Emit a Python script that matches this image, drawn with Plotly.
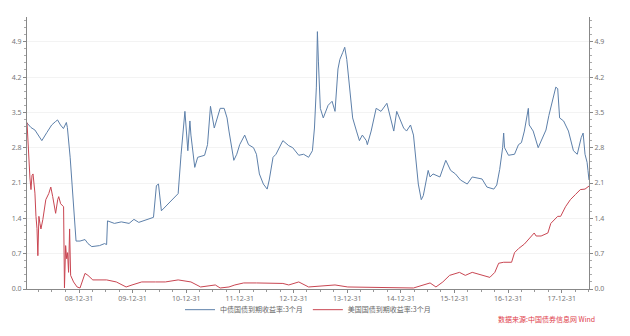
import plotly.graph_objects as go
import pandas as pd

cn_dates = ["2008-01-12","2008-02-08","2008-03-06","2008-04-22","2008-05-26","2008-06-28","2008-07-25","2008-08-07",
            "2008-08-27","2008-09-16","2008-10-06","2008-10-13","2008-11-01","2008-11-21","2008-12-11","2009-01-07",
            "2009-02-10","2009-03-02","2009-03-28","2009-05-20","2009-06-23","2009-07-07","2009-07-13","2009-08-29",
            "2009-10-15","2009-12-07","2010-01-09","2010-02-11","2010-04-19","2010-05-22","2010-06-11","2010-06-25",
            "2010-07-15","2010-08-31","2010-10-03","2010-11-06","2010-11-26","2010-12-22","2011-01-11","2011-01-25",
            "2011-02-01","2011-02-27","2011-03-19","2011-05-05","2011-05-25","2011-06-14","2011-07-10","2011-07-30",
            "2011-08-19","2011-09-15","2011-10-05","2011-10-18","2011-11-20","2011-12-10","2011-12-30","2012-02-02",
            "2012-02-28","2012-04-02","2012-04-22","2012-05-12","2012-06-08","2012-07-04","2012-07-18","2012-08-13",
            "2012-09-02","2012-10-19","2012-11-28","2012-12-25","2013-02-04","2013-03-09","2013-04-12","2013-05-08",
            "2013-05-22","2013-06-04","2013-06-11","2013-06-18","2013-06-24","2013-07-01","2013-07-21","2013-08-23",
            "2013-09-19","2013-10-09","2013-10-29","2013-11-11","2013-12-01","2013-12-14","2013-12-28","2014-01-17",
            "2014-02-06","2014-03-04","2014-03-24","2014-04-13","2014-05-10","2014-05-17","2014-06-12","2014-07-16",
            "2014-08-18","2014-09-27","2014-10-24","2014-11-13","2014-12-03","2014-12-30","2015-01-19","2015-02-08",
            "2015-03-07","2015-03-27","2015-04-29","2015-05-19","2015-06-02","2015-07-05","2015-07-18","2015-08-07",
            "2015-09-23","2015-11-02","2015-12-05","2016-01-07","2016-02-10","2016-03-27","2016-04-30","2016-07-06",
            "2016-08-08","2016-09-24","2016-10-14","2016-11-03","2016-11-23","2016-11-30","2016-12-06","2017-01-02",
            "2017-02-12","2017-03-11","2017-03-31","2017-04-20","2017-05-17","2017-05-23","2017-06-19","2017-07-23",
            "2017-08-12","2017-09-14","2017-10-04","2017-10-31","2017-11-20","2017-12-03","2017-12-16","2018-01-12",
            "2018-02-14","2018-03-20","2018-04-15","2018-05-12","2018-05-25","2018-06-07","2018-06-21","2018-06-27",
            "2018-07-04"]
cn_yield = [3.29,3.20,3.15,2.94,3.10,3.25,3.32,3.35,
            3.25,3.18,3.30,3.20,2.60,1.83,0.95,0.95,
            0.98,0.90,0.84,0.86,0.90,0.88,1.35,1.30,
            1.33,1.30,1.38,1.32,1.38,1.42,2.05,2.08,
            1.55,1.69,1.80,1.89,2.67,3.52,2.74,3.33,
            3.05,2.41,2.61,2.65,2.86,3.62,3.19,3.39,
            3.58,3.58,3.39,3.13,2.55,2.67,2.86,3.05,
            2.86,2.80,2.67,2.28,2.08,1.98,2.16,2.61,
            2.67,2.94,2.84,2.80,2.65,2.67,2.61,2.74,
            3.19,4.00,5.10,4.50,4.03,3.58,3.39,3.64,
            3.72,3.52,4.36,4.55,4.69,4.79,4.55,3.97,
            3.39,3.13,2.94,3.05,2.94,2.86,3.13,3.58,
            3.52,3.68,3.33,3.13,3.52,3.33,3.19,3.13,
            3.25,3.05,2.08,1.77,1.85,2.35,2.22,2.28,
            2.22,2.55,2.35,2.28,2.16,2.08,2.22,2.18,
            2.02,1.98,2.06,2.37,2.80,3.09,2.80,2.65,
            2.67,2.86,2.90,3.13,3.58,3.25,3.13,2.80,
            2.94,3.15,3.44,3.77,4.00,3.97,3.39,3.33,
            3.13,2.74,2.67,3.00,3.09,2.67,2.51,2.35,
            2.16]

us_dates = ["2008-01-12","2008-01-19","2008-01-25","2008-02-01","2008-02-08","2008-02-15","2008-02-22","2008-02-28",
            "2008-03-06","2008-03-13","2008-03-20","2008-03-26","2008-04-02","2008-04-09","2008-04-16","2008-04-29",
            "2008-05-19","2008-06-08","2008-06-22","2008-07-05","2008-07-25","2008-08-08","2008-08-15","2008-08-28",
            "2008-09-17","2008-09-23","2008-10-01","2008-10-08","2008-10-14","2008-10-21","2008-10-28","2008-11-04",
            "2008-11-24","2008-12-18","2009-01-07","2009-02-10","2009-03-02","2009-04-04","2009-05-20","2009-07-07",
            "2009-09-11","2009-11-17","2009-12-27","2010-03-03","2010-06-05","2010-08-11","2010-11-06","2011-02-01",
            "2011-04-08","2011-07-17","2011-08-19","2011-10-18","2011-11-27","2012-01-26","2012-04-22","2012-10-19",
            "2012-11-28","2013-02-04","2013-04-12","2013-10-09","2014-01-04","2014-05-17","2014-11-13","2015-03-27",
            "2015-07-18","2015-08-27","2015-10-13","2015-11-28","2016-02-03","2016-03-14","2016-04-30","2016-07-06",
            "2016-08-28","2016-10-01","2016-10-27","2016-11-30","2017-01-23","2017-02-12","2017-03-11","2017-04-20",
            "2017-05-23","2017-06-26","2017-07-09","2017-08-12","2017-09-27","2017-10-17","2017-12-03","2017-12-23",
            "2018-01-25","2018-02-27","2018-04-02","2018-05-06","2018-06-07","2018-07-04"]
us_yield = [3.30,2.80,2.35,2.20,1.97,2.25,2.28,2.15,
            1.90,1.44,1.20,0.66,1.44,1.30,1.19,1.38,
            1.77,1.89,2.02,1.83,1.50,1.77,1.83,1.69,
            1.63,0.02,0.86,0.60,0.72,0.33,1.19,0.27,
            0.14,0.04,0.02,0.31,0.27,0.18,0.18,0.18,
            0.14,0.04,0.08,0.14,0.14,0.14,0.18,0.14,
            0.04,0.08,0.02,0.04,0.08,0.12,0.12,0.11,
            0.08,0.14,0.04,0.08,0.04,0.03,0.02,0.02,
            0.12,0.04,0.14,0.27,0.33,0.27,0.33,0.27,
            0.23,0.33,0.51,0.53,0.53,0.72,0.80,0.89,
            0.99,1.11,1.05,1.05,1.11,1.30,1.44,1.44,
            1.63,1.77,1.87,1.97,1.98,2.04]

x_ticks = ["2008-12-31","2009-12-31","2010-12-31","2011-12-31","2012-12-31",
           "2013-12-31","2014-12-31","2015-12-31","2016-12-31","2017-12-31"]
x_labels = ["08-12-31","09-12-31","10-12-31","11-12-31","12-12-31",
            "13-12-31","14-12-31","15-12-31","16-12-31","17-12-31"]
y_ticks = [0.0, 0.7, 1.4, 2.1, 2.8, 3.5, 4.2, 4.9]
y_labels = ["0.0","0.7","1.4","2.1","2.8","3.5","4.2","4.9"]

names = ["中债国债到期收益率:3个月", "美国国债到期收益率:3个月"]

minor_x = [d.strftime("%Y-%m-%d") for d in pd.date_range("2008-03-31", "2018-06-30", freq="QE")]

fig = go.Figure()
fig.add_trace(go.Scatter(x=cn_dates, y=cn_yield, mode="lines", name=names[0],
                         line=dict(color="#5d80aa", width=1)))
fig.add_trace(go.Scatter(x=us_dates, y=us_yield, mode="lines", name=names[1],
                         line=dict(color="#c94652", width=1)))
fig.add_trace(go.Scatter(x=[cn_dates[0]], y=[None], yaxis="y2", showlegend=False, hoverinfo="skip"))

ax_font = dict(family="Noto Sans, DejaVu Sans", size=7, color="#777777")
yrange = [0, 5.39]
fig.update_layout(
    width=630, height=336,
    margin=dict(l=16, r=41, t=17, b=42),
    paper_bgcolor="white", plot_bgcolor="white",
    showlegend=True,
    legend=dict(orientation="h", x=0.5, xanchor="center", y=-0.076, yanchor="middle",
                font=dict(family="Noto Sans CJK SC", size=7, color="#666666"),
                itemwidth=30, tracegroupgap=0, bgcolor="rgba(0,0,0,0)"),
    xaxis=dict(type="date", range=["2008-01-12", "2018-07-04"],
               tickmode="array", tickvals=x_ticks, ticktext=x_labels,
               ticks="outside", ticklen=3, tickcolor="#888888",
               showline=True, linecolor="#888888", linewidth=1,
               showgrid=False, zeroline=False, tickfont=ax_font,
               minor=dict(tickmode="array", tickvals=minor_x, ticks="outside", ticklen=2, tickcolor="#999999", showgrid=False)),
    yaxis=dict(range=yrange, tickmode="array", tickvals=y_ticks, ticktext=y_labels,
               ticks="outside", ticklen=3, tickcolor="#888888",
               showline=True, linecolor="#888888", linewidth=1,
               showgrid=True, gridcolor="#f3f3f3", zeroline=False, tickfont=ax_font,
               minor=dict(dtick=0.14, ticks="outside", ticklen=2, tickcolor="#aaaaaa", showgrid=False)),
    yaxis2=dict(range=yrange, overlaying="y", side="right", tickmode="array",
                tickvals=y_ticks, ticktext=y_labels,
                ticks="outside", ticklen=3, tickcolor="#888888",
                showline=True, linecolor="#888888", linewidth=1,
                showgrid=False, zeroline=False, tickfont=ax_font,
                minor=dict(dtick=0.14, ticks="outside", ticklen=2, tickcolor="#aaaaaa", showgrid=False)),
    annotations=[dict(text="数据来源:中国债券信息网 Wind", xref="paper", yref="paper",
                      x=1.014, y=-0.112, xanchor="right", yanchor="middle", showarrow=False,
                      font=dict(family="Noto Sans CJK SC", size=7, color="#e0404c"))],
)

fig.write_html("out.html")
